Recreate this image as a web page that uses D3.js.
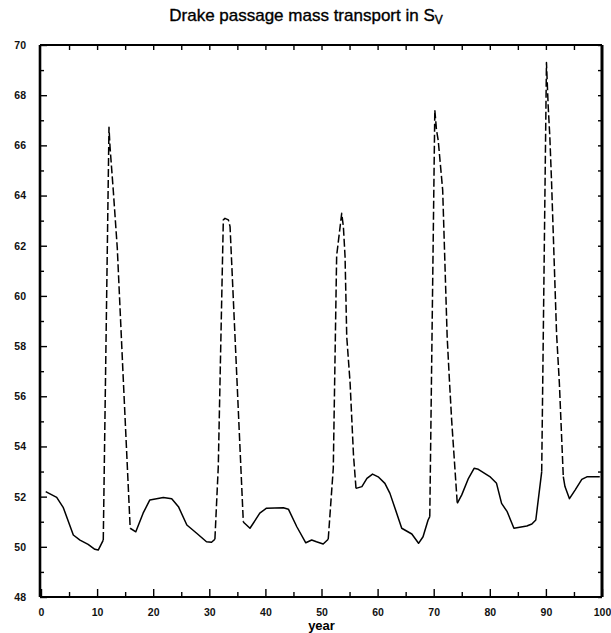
<!DOCTYPE html>
<html>
<head>
<meta charset="utf-8">
<script src="https://cdn.jsdelivr.net/npm/d3@7/dist/d3.min.js"></script>
<style>
  html, body { margin: 0; padding: 0; background: #fff; }
  svg { display: block; }
</style>
</head>
<body>
<svg id="chart" width="611" height="633"></svg>
<script>
// ---- data ----
const years = [0.84, 2.8, 3.98, 5.76, 6.95, 8.4, 9.6, 10.2, 11.1, 12.12, 12.3, 12.9, 13.6, 14.6, 15.9, 16.9,
  18.2, 19.4, 21.8, 23.3, 24.5, 26.0, 27.75, 29.5, 30.4, 31.0, 31.6, 32.5, 32.8, 33.4, 33.7, 35.0, 36.06, 36.2,
  37.25, 39.0, 40.2, 43.2, 44.1, 45.6, 47.2, 48.25, 49.1, 50.3, 51.2, 52.1, 52.7, 53.6, 53.9, 54.2, 54.5, 55.1,
  55.7, 56.15, 57.2, 58.1, 59.1, 60.1, 61.3, 62.2, 63.1, 64.3, 66.1, 67.3, 68.1, 69.0, 69.3, 70.2, 70.5, 70.8,
  71.6, 72.4, 72.8, 73.2, 74.2, 75.0, 76.2, 77.2, 77.95, 80.0, 81.2, 82.1, 83.1, 84.3, 86.6, 87.5, 88.2, 89.25,
  90.1, 90.4, 90.7, 91.0, 91.9, 92.4, 93.1, 93.4, 94.2, 95.2, 96.4, 97.3, 99.6];
const transport = [52.20, 51.97, 51.56, 50.47, 50.27, 50.10, 49.90, 49.87, 50.27, 66.72, 65.95, 64.15, 61.9, 57.0, 50.74, 50.60,
  51.34, 51.87, 51.97, 51.92, 51.60, 50.87, 50.54, 50.20, 50.18, 50.30, 53.19, 63.03, 63.09, 63.03, 62.76, 56.3, 51.0, 50.96,
  50.74, 51.34, 51.54, 51.56, 51.50, 50.80, 50.16, 50.27, 50.20, 50.11, 50.30, 53.13, 61.6, 63.29, 62.76, 61.56, 58.37, 56.52,
  53.66, 52.33, 52.40, 52.73, 52.90, 52.79, 52.53, 52.13, 51.54, 50.74, 50.51, 50.14, 50.40, 51.07, 51.20, 67.41, 66.61, 66.21,
  64.22, 58.37, 56.65, 55.05, 51.73, 52.07, 52.73, 53.13, 53.09, 52.80, 52.53, 51.73, 51.40, 50.74, 50.83, 50.91, 51.07, 52.99,
  69.30, 67.60, 66.35, 64.60, 58.50, 56.52, 52.80, 52.40, 51.92, 52.26, 52.69, 52.79, 52.79];
const yMajorTicks = [48, 50, 52, 54, 56, 58, 60, 62, 64, 66, 68, 70];
const yMinorTicks = [49, 51, 53, 55, 57, 59, 61, 63, 65, 67, 69];
const xMajorTicks = [0, 10, 20, 30, 40, 50, 60, 70, 80, 90, 100];
const xMinorTicks = [5, 15, 25, 35, 45, 55, 65, 75, 85, 95];
const titleText = "Drake passage mass transport in S";
const titleSub = "V";
const xLabel = "year";

// ---- drawing ----
const svg = d3.select("#chart");
const x = d3.scaleLinear().domain([0, 100]).range([41, 602]);
const y = d3.scaleLinear().domain([48, 70]).range([597, 45]);
const FONT = "'Liberation Sans', Arial, Helvetica, sans-serif";

// Title
const title = svg.append("text")
  .attr("x", 306).attr("y", 21)
  .attr("text-anchor", "middle")
  .attr("font-family", FONT).attr("font-size", 17)
  .attr("fill", "#000").attr("stroke", "#000").attr("stroke-width", 0.35);
title.append("tspan").text(titleText);
title.append("tspan").attr("font-size", 12).attr("dy", 3).text(titleSub);

// Axes (ticks pointing inward)
function styleAxis(g) {
  g.select(".domain").remove();
  g.selectAll(".tick line").attr("stroke", "#000").attr("stroke-width", 1.4);
  g.selectAll(".tick text").attr("font-family", FONT).attr("font-size", 10.5)
    .attr("font-weight", "bold").attr("fill", "#111");
}
// left major
svg.append("g").attr("transform", `translate(${x(0) - 1},0)`)
  .call(d3.axisLeft(y).tickValues(yMajorTicks).tickSize(-7).tickPadding(14).tickFormat(d3.format("d")))
  .call(styleAxis);
// left minor
svg.append("g").attr("transform", `translate(${x(0) - 1},0)`)
  .call(d3.axisLeft(y).tickValues(yMinorTicks).tickSize(-4).tickFormat(""))
  .call(styleAxis);
// right ticks
svg.append("g").attr("transform", `translate(${x(100)},0)`)
  .call(d3.axisRight(y).tickValues(yMajorTicks.concat(yMinorTicks)).tickSize(-4).tickFormat(""))
  .call(styleAxis);
// bottom major
svg.append("g").attr("transform", `translate(0,${y(48)})`)
  .call(d3.axisBottom(x).tickValues(xMajorTicks).tickSize(-8).tickPadding(12).tickFormat(d3.format("d")))
  .call(styleAxis);
// bottom minor
svg.append("g").attr("transform", `translate(0,${y(48)})`)
  .call(d3.axisBottom(x).tickValues(xMinorTicks).tickSize(-5).tickFormat(""))
  .call(styleAxis);
// top ticks
svg.append("g").attr("transform", `translate(0,${y(70)})`)
  .call(d3.axisTop(x).tickValues(xMinorTicks.concat(xMajorTicks.slice(1, -1))).tickSize(-5).tickFormat(""))
  .call(styleAxis);

// Frame
const L = x(0) - 1, R = x(100), T = y(70), B = y(48);
svg.append("line").attr("x1", L).attr("x2", R).attr("y1", T).attr("y2", T).attr("stroke", "#000").attr("stroke-width", 1.8);
svg.append("line").attr("x1", L).attr("x2", R).attr("y1", B).attr("y2", B).attr("stroke", "#000").attr("stroke-width", 2.2);
svg.append("line").attr("x1", L).attr("x2", L).attr("y1", T).attr("y2", B).attr("stroke", "#000").attr("stroke-width", 2.6);
svg.append("line").attr("x1", R).attr("x2", R).attr("y1", T).attr("y2", B).attr("stroke", "#000").attr("stroke-width", 3);

// x label
svg.append("text").attr("x", x(50)).attr("y", 630).attr("text-anchor", "middle")
  .attr("font-family", FONT).attr("font-size", 13).attr("font-weight", "bold").text(xLabel);

// Line: split into runs of solid (quiet) and dashed (burst) segments
const pts = years.map((yr, i) => ({ yr, v: transport[i] }));
function isBurst(a, b) {
  return Math.max(a.v, b.v) > 53.5 || Math.abs((b.v - a.v) / (b.yr - a.yr)) > 2.5;
}
const runs = [];
for (let i = 0; i < pts.length - 1; i++) {
  const dashed = isBurst(pts[i], pts[i + 1]);
  const last = runs[runs.length - 1];
  if (last && last.dashed === dashed) last.pts.push(pts[i + 1]);
  else runs.push({ dashed, pts: [pts[i], pts[i + 1]] });
}
const line = d3.line().x(d => x(d.yr)).y(d => y(d.v));
svg.append("g").selectAll("path").data(runs).join("path")
  .attr("d", d => line(d.pts))
  .attr("fill", "none")
  .attr("stroke", "#000")
  .attr("stroke-width", 1.5)
  .attr("stroke-linejoin", "round")
  .attr("stroke-dasharray", d => d.dashed ? "8,3" : null);
</script>
</body>
</html>
